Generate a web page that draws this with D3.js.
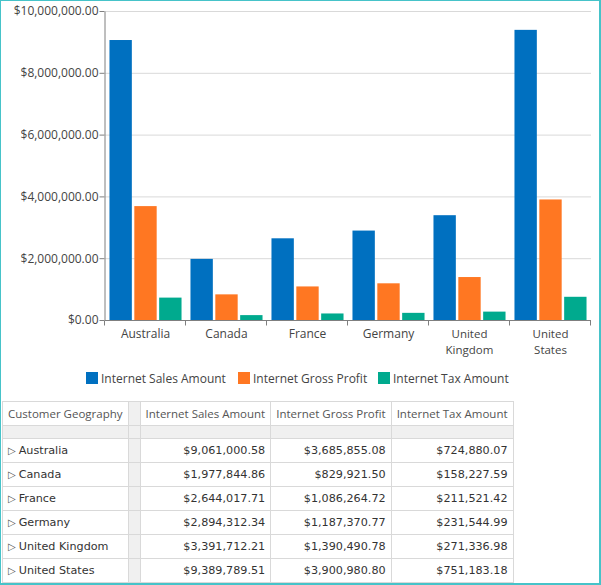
<!DOCTYPE html>
<html>
<head>
<meta charset="utf-8">
<script src="https://cdn.jsdelivr.net/npm/d3@7"></script>
<style>
  html, body { margin: 0; padding: 0; background: #fff; }
  #frame {
    position: relative;
    width: 601px; height: 585px;
    box-sizing: border-box;
    border: 1px solid #46c3c9;
    border-right-width: 2px;
    border-bottom-width: 2px;
    overflow: hidden;
  }
  svg { position: absolute; left: -1px; top: -1px; }
  text { font-family: "Open Sans", sans-serif; }
  table {
    position: absolute; left: 1px; top: 400px;
    border-collapse: collapse;
    font-family: "DejaVu Sans", sans-serif;
    font-size: 11.2px;
    color: #333;
  }
  td, th { border: 1px solid #d9d9d9; padding: 0 5px; height: 23px; white-space: nowrap; }
  th { font-family: "Open Sans", sans-serif; font-weight: normal; font-size: 11.5px; color: #555; height: 23px; }
  th.first { text-align: left; }
  th.num { text-align: right; }
  td.num { text-align: right; }
  tr.blank td { background: #f0f0f0; height: 12px; }
  td.gap, th.gap { background: #f0f0f0; padding: 0; width: 11px; }
  .tri { font-size: 10px; color: #555; margin-right: 3px; }
</style>
</head>
<body>
<div id="frame"></div>
<script>
// 数据
const countries = ['Australia', 'Canada', 'France', 'Germany', 'United Kingdom', 'United States']
const seriesNames = ['Internet Sales Amount', 'Internet Gross Profit', 'Internet Tax Amount']
const salesAmount = [9061000.58, 1977844.86, 2644017.71, 2894312.34, 3391712.21, 9389789.51]
const grossProfit = [3685855.08, 829921.50, 1086264.72, 1187370.77, 1390490.78, 3900980.80]
const taxAmount = [724880.07, 158227.59, 211521.42, 231544.99, 271336.98, 751183.18]
const yTicks = [0, 2000000, 4000000, 6000000, 8000000, 10000000]
const colors = ['#0070c0', '#ff7722', '#00aa8e']

const seriesValues = [salesAmount, grossProfit, taxAmount]

const frame = d3.select('#frame')
const svg = frame.append('svg')
  .attr('width', 601)
  .attr('height', 400)

const margin = {top: 11, left: 105, right: 11}
const plotW = 591 - margin.left
const plotBottom = 320

const x0 = d3.scaleBand()
  .domain(countries)
  .range([margin.left, margin.left + plotW])
  .paddingInner(0)
  .paddingOuter(0)

const x1 = d3.scaleBand()
  .domain(seriesNames)
  .range([0, x0.bandwidth()])
  .paddingInner(0.1)
  .paddingOuter(0.18)

const y = d3.scaleLinear()
  .domain([0, 10000000])
  .range([plotBottom, margin.top])

const fmt = d3.format('$,.2f')

// 网格线
svg.append('g')
  .selectAll('line')
  .data(yTicks.slice(1))
  .enter()
  .append('line')
  .attr('x1', margin.left)
  .attr('x2', margin.left + plotW)
  .attr('y1', d => y(d) + 0.5)
  .attr('y2', d => y(d) + 0.5)
  .attr('stroke', '#d9d9d9')

// 柱子
const groups = svg.append('g')
  .selectAll('g')
  .data(countries)
  .enter()
  .append('g')
  .attr('transform', d => `translate(${x0(d)},0)`)

groups.selectAll('rect')
  .data((d, i) => seriesNames.map((s, j) => ({s, j, v: seriesValues[j][i]})))
  .enter()
  .append('rect')
  .attr('x', d => x1(d.s))
  .attr('width', x1.bandwidth())
  .attr('y', d => y(d.v))
  .attr('height', d => plotBottom - y(d.v))
  .attr('fill', d => colors[d.j])

// y轴
const yAxis = svg.append('g')
  .attr('transform', `translate(${margin.left - 0.5},0)`)
  .call(d3.axisLeft(y).tickValues(yTicks).tickFormat(fmt).tickSize(5).tickSizeOuter(0))
yAxis.select('.domain').attr('stroke', '#7f7f7f')
yAxis.selectAll('.tick line').attr('stroke', '#7f7f7f')
yAxis.selectAll('text')
  .attr('x', -6)
  .attr('fill', '#444')
  .style('font-size', '12px')
  .style('font-family', '"Open Sans", sans-serif')

// x轴
const xAxis = svg.append('g')
  .attr('transform', `translate(0,${plotBottom + 0.5})`)
xAxis.append('line')
  .attr('x1', margin.left)
  .attr('x2', margin.left + plotW)
  .attr('stroke', '#7f7f7f')
xAxis.selectAll('.tk')
  .data(d3.range(countries.length + 1))
  .enter()
  .append('line')
  .attr('x1', i => Math.round(margin.left + i * x0.bandwidth()) - 0.5)
  .attr('x2', i => Math.round(margin.left + i * x0.bandwidth()) - 0.5)
  .attr('y1', 0)
  .attr('y2', 5)
  .attr('stroke', '#7f7f7f')

// 分行标签, 每行一个text
const labelLines = countries.flatMap(c => c.split(' ').map((w, i) => ({c, w, i})))
xAxis.selectAll('.lbl')
  .data(labelLines)
  .enter()
  .append('text')
  .attr('x', d => x0(d.c) + x0.bandwidth() / 2)
  .attr('y', d => 17.5 + d.i * 15.5)
  .attr('text-anchor', 'middle')
  .attr('fill', '#444')
  .style('font-size', d => d.c.includes(' ') ? '11.5px' : '12px')
  .text(d => d.w)

// 图例
const legendX = [86, 238, 378]
const legend = svg.append('g')
  .selectAll('g')
  .data(seriesNames)
  .enter()
  .append('g')
  .attr('transform', (d, i) => `translate(${legendX[i]},372)`)
legend.append('rect')
  .attr('width', 12)
  .attr('height', 12)
  .attr('fill', (d, i) => colors[i])
legend.append('text')
  .attr('x', 15)
  .attr('y', 10.5)
  .attr('fill', '#444')
  .style('font-size', '12px')
  .text(d => d)

// 表格
const table = frame.append('table')
const head = table.append('tr')
head.append('th').attr('class', 'first').text('Customer Geography')
head.append('th').attr('class', 'gap')
seriesNames.forEach(s => head.append('th').attr('class', 'num').text(s))

const blank = table.append('tr').attr('class', 'blank')
blank.append('td')
blank.append('td').attr('class', 'gap')
seriesNames.forEach(() => blank.append('td'))

countries.forEach((c, i) => {
  const tr = table.append('tr')
  const td = tr.append('td')
  td.append('span').attr('class', 'tri').text('▷')
  td.append('span').text(c)
  tr.append('td').attr('class', 'gap')
  seriesValues.forEach(vals => tr.append('td').attr('class', 'num').text(fmt(vals[i])))
})
</script>
</body>
</html>
